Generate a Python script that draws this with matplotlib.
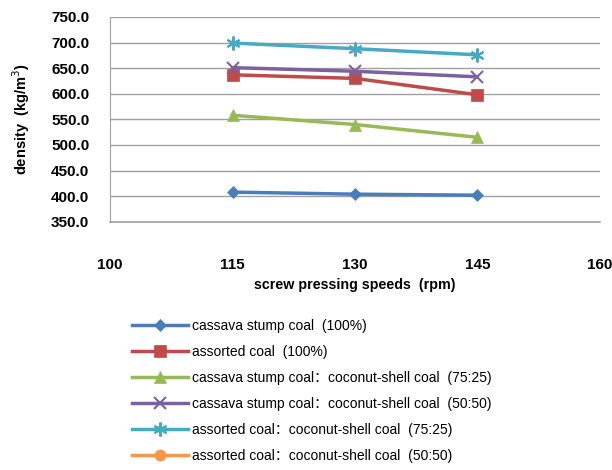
import numpy as np
import matplotlib.pyplot as plt

plt.rcParams['font.family'] = ['Liberation Sans', 'Noto Sans CJK SC', 'DejaVu Sans']

speeds = [115, 130, 145]
cassava = [408, 404, 402]
assorted = [637, 630, 598]
cass_coco_75 = [558, 540, 515]
cass_coco_50 = [651, 644, 633]
asso_coco_75 = [699, 688, 676]
asso_coco_50 = [np.nan, np.nan, np.nan]

labels = ['cassava stump coal  (100%)',
          'assorted coal  (100%)',
          'cassava stump coal：coconut-shell coal  (75:25)',
          'cassava stump coal：coconut-shell coal  (50:50)',
          'assorted coal：coconut-shell coal  (75:25)',
          'assorted coal：coconut-shell coal  (50:50)']
series = [cassava, assorted, cass_coco_75, cass_coco_50, asso_coco_75, asso_coco_50]
colors = ['#4A7EBB', '#BE4B48', '#98B954', '#7D60A0', '#46AAC5', '#F79646']
markers = ['D', 's', '^', 'x', (6, 2, 0), 'o']
msizes = [6, 8, 8, 9, 10, 8]

fig = plt.figure(figsize=(6.12, 4.70), dpi=100)
ax = fig.add_axes([0.18, 0.528, 0.80, 0.436])

for y, lab, c, m, ms in zip(series, labels, colors, markers, msizes):
    ax.plot(speeds, y, color=c, marker=m, markersize=ms, lw=2.5,
            markeredgewidth=1.5 if m in ('x', (6, 2, 0)) else 0.5,
            markeredgecolor=c, label=lab)

ax.set_xlim(100, 160)
ax.set_ylim(350, 750)
ax.set_xticks([100, 115, 130, 145, 160])
ax.set_yticks(np.arange(350, 751, 50))
ax.set_yticklabels(['%.1f' % v for v in np.arange(350, 751, 50)])
ax.yaxis.grid(True, color='#A0A0A0', lw=1)
ax.axhline(350, color='#A0A0A0', lw=1.2, clip_on=False, zorder=0.5)
ax.set_axisbelow(True)
for s in ['top', 'right', 'bottom']:
    ax.spines[s].set_visible(False)
ax.spines['left'].set_color('#A0A0A0')
ax.tick_params(axis='both', length=0, labelsize=11)
ax.tick_params(axis='x', pad=26)
ax.tick_params(axis='y', pad=15)
for t in ax.get_xticklabels() + ax.get_yticklabels():
    t.set_fontweight('bold')

ax.set_xlabel('screw pressing speeds  (rpm)', fontsize=10.3, fontweight='bold', labelpad=4)
ax.set_ylabel('density  (kg/m$^3$)', fontsize=10.5, fontweight='bold', labelpad=14)

fig.legend(loc='upper left', bbox_to_anchor=(0.207, 0.333), frameon=False,
           fontsize=10, handlelength=4.0, labelspacing=0.86, handletextpad=0.3,
           borderaxespad=0)

fig.savefig('out.png', dpi=100)
